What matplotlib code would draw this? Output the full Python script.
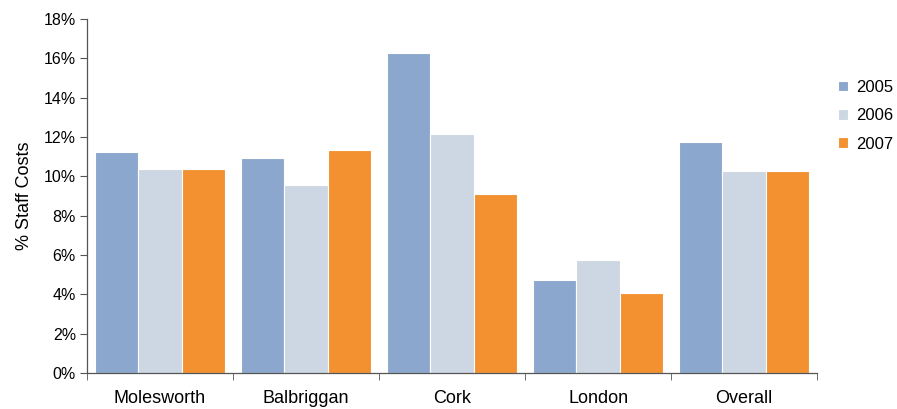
import matplotlib.pyplot as plt
import numpy as np

plt.rcParams['font.family'] = ['Liberation Sans', 'DejaVu Sans']

# Staff costs as a share of total, per site and year
sites = ["Molesworth", "Balbriggan", "Cork", "London", "Overall"]
years = ["2005", "2006", "2007"]
pct_2005 = [11.25, 10.95, 16.25, 4.75, 11.75]
pct_2006 = [10.35, 9.55, 12.15, 5.75, 10.25]
pct_2007 = [10.35, 11.35, 9.1, 4.05, 10.25]
colours = ["#8BA7CD", "#CDD7E3", "#F39131"]

fig = plt.figure(figsize=(8.97, 4.09), dpi=100)
ax = fig.add_axes([0.097, 0.088, 0.814, 0.866])

x = np.arange(len(sites))
w = 0.297
for i, (vals, col, yr) in enumerate(zip([pct_2005, pct_2006, pct_2007], colours, years)):
    ax.bar(x + (i - 1) * w, vals, width=w, color=col, edgecolor="white",
           linewidth=0.8, label=yr)

ax.set_xlim(-0.5, len(sites) - 0.5)
ax.set_ylim(0, 18)
ax.set_yticks(np.arange(0, 19, 2))
ax.set_yticklabels([f"{v}%" for v in range(0, 19, 2)])
ax.set_xticks(x)
ax.set_xticklabels(sites)
ax.set_xticks(np.arange(-0.5, len(sites)), minor=True)
ax.tick_params(axis="x", which="major", length=0, pad=12, labelsize=13)
ax.tick_params(axis="x", which="minor", length=5, direction="out", color="#555555")
ax.tick_params(axis="y", length=5, direction="out", color="#555555", labelsize=11.5, pad=3)

for side in ["top", "right"]:
    ax.spines[side].set_visible(False)
for side in ["left", "bottom"]:
    ax.spines[side].set_color("#555555")
    ax.spines[side].set_linewidth(0.9)

ax.set_ylabel("% Staff Costs", fontsize=13, labelpad=8)

ax.legend(loc="upper left", bbox_to_anchor=(1.008, 0.87), frameon=False,
          fontsize=12, handlelength=0.6, handleheight=0.6, handletextpad=0.5,
          labelspacing=0.8)

fig.savefig("out.png", dpi=100)
